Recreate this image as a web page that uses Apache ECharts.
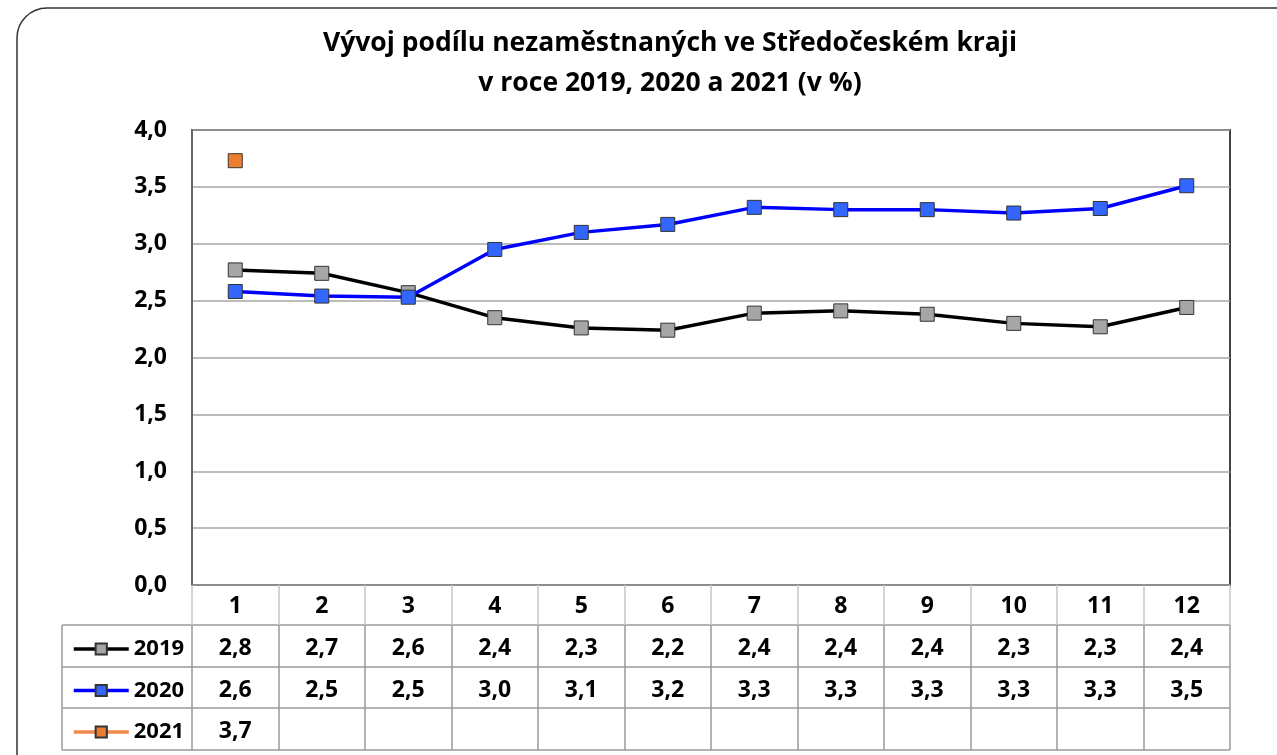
<!DOCTYPE html>
<html><head><meta charset="utf-8">
<script src="https://cdn.jsdelivr.net/npm/echarts@6/dist/echarts.min.js"></script>
<style>html,body{margin:0;padding:0;background:#fff}#c{width:1277px;height:755px}</style>
</head><body><div id="c"></div>
<script>
const months = ['1','2','3','4','5','6','7','8','9','10','11','12'];
const years = ['2019','2020','2021'];
const v2019 = [2.77, 2.74, 2.57, 2.35, 2.26, 2.24, 2.39, 2.41, 2.38, 2.30, 2.27, 2.44];
const v2020 = [2.58, 2.54, 2.53, 2.95, 3.10, 3.17, 3.32, 3.30, 3.30, 3.27, 3.31, 3.51];
const v2021 = [3.73, null, null, null, null, null, null, null, null, null, null, null];
const t2019 = ['2,8','2,7','2,6','2,4','2,3','2,2','2,4','2,4','2,4','2,3','2,3','2,4'];
const t2020 = ['2,6','2,5','2,5','3,0','3,1','3,2','3,3','3,3','3,3','3,3','3,3','3,5'];
const t2021 = ['3,7','','','','','','','','','','',''];
const yTicks = ['0,0','0,5','1,0','1,5','2,0','2,5','3,0','3,5','4,0'];

const FONT = 'Open Sans';
const FS = 23;
const G = {left: 192, right: 47, top: 130, bottom: 170};
const W = 1277, H = 755;
const gx0 = G.left, gx1 = W - G.right, gy1 = H - G.bottom;
const rowH = [40, 42, 41, 42];
const tblLeft = 62;
const lineCol = '#9a9a9a';

function rowAxis(data, offset, margin, tickLen, tickCol) {
  return {
    type: 'category', data: data, position: 'bottom', offset: offset, gridIndex: 0,
    axisLine: {show: false},
    axisTick: {show: tickLen > 0, length: tickLen, interval: 0, lineStyle: {color: tickCol || lineCol, width: 1.5}},
    axisLabel: {interval: 0, margin: margin, fontFamily: FONT, fontWeight: 'bold', fontSize: FS, color: '#000'},
    splitLine: {show: false}
  };
}

const y1 = gy1 + rowH[0], y2 = y1 + rowH[1], y3 = y2 + rowH[2], y4 = y3 + rowH[3];
const graphics = [
  {type: 'rect', shape: {x: 17, y: 8, width: 1320, height: 820, r: 30}, style: {fill: 'none', stroke: '#333', lineWidth: 1.5}, z: 0},
];
[y1, y2, y3, y4].forEach(y => graphics.push({type: 'line', shape: {x1: tblLeft, y1: y, x2: gx1, y2: y}, style: {stroke: lineCol, lineWidth: 1.5}}));
graphics.push({type: 'line', shape: {x1: tblLeft, y1: y1, x2: tblLeft, y2: y4}, style: {stroke: lineCol, lineWidth: 1.5}});

const mk = (name, data, lineColor, fill) => ({
  name: name, type: 'line', data: data, xAxisIndex: 0,
  symbol: 'rect', symbolSize: 14, showSymbol: true,
  lineStyle: {color: lineColor, width: 3.5},
  itemStyle: {color: fill, borderColor: '#333', borderWidth: 1},
  emphasis: {disabled: true}, animation: false, z: 3
});

const chart = echarts.init(document.getElementById('c'));
chart.setOption({
  backgroundColor: '#fff',
  animation: false,
  title: {
    text: 'Vývoj podílu nezaměstnaných ve Středočeském kraji\nv roce 2019, 2020 a 2021 (v %)',
    left: 665, top: 18, textAlign: 'center',
    textStyle: {fontFamily: FONT, fontWeight: 'bold', fontSize: 26.5, lineHeight: 40, color: '#000'}
  },
  legend: {
    data: years, orient: 'vertical', left: 67, top: 632,
    itemWidth: 55, itemHeight: 14, itemGap: 17.5,
    lineStyle: {width: 3.5},
    textStyle: {fontFamily: FONT, fontWeight: 'bold', fontSize: 22, color: '#000', lineHeight: 24},
    selectedMode: false
  },
  grid: {left: G.left, right: G.right, top: G.top, bottom: G.bottom, show: true, borderColor: '#444', borderWidth: 2, backgroundColor: 'transparent'},
  xAxis: [
    rowAxis(months, 0, 10, rowH[0], '#c8c8c8'),
    rowAxis(t2019, rowH[0], 12, rowH[1] + rowH[2] + rowH[3]),
    rowAxis(t2020, rowH[0] + rowH[1], 12, 0),
    rowAxis(t2021, rowH[0] + rowH[1] + rowH[2], 12, 0)
  ],
  yAxis: {
    type: 'value', min: 0, max: 4, interval: 0.5,
    axisLine: {show: true, lineStyle: {color: '#666', width: 2}},
    axisTick: {show: false},
    axisLabel: {margin: 25, fontFamily: FONT, fontWeight: 'bold', fontSize: FS, color: '#000',
      formatter: v => yTicks[Math.round(v / 0.5)]},
    splitLine: {show: true, lineStyle: {color: '#a6a6a6', width: 1.5}}
  },
  series: [
    mk('2019', v2019, '#000000', '#a6a6a6'),
    mk('2020', v2020, '#0000ff', '#3366ff'),
    mk('2021', v2021, '#f08a4b', '#ed7d31')
  ],
  graphic: graphics
});
</script></body></html>
